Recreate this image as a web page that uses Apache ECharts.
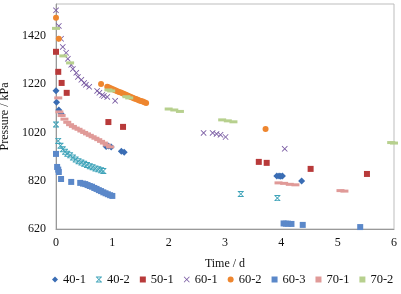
<!DOCTYPE html>
<html>
<head>
<meta charset="utf-8">
<script src="https://cdn.jsdelivr.net/npm/echarts@6/dist/echarts.min.js"></script>
<style>
  html, body { margin: 0; padding: 0; background: #fff; }
  #chart { width: 401px; height: 294px; }
</style>
</head>
<body>
<div id="chart"></div>
<script>
// [time (d), pressure (kPa)] pairs
const s40_1 = [[0,1193],[0.01,1145],[0.05,1113],[0.09,1097],[0.89,962],[0.93,964],[0.98,960],[1.16,942],[1.21,938],
  [3.92,840],[3.96,840],[3.99,838],[4.02,840],[4.36,819]]
const s40_2 = [[0,1053],[0.04,985],[0.08,965],[0.12,950],[0.16,940],[0.2,932],[0.25,925],[0.3,916],[0.35,908],[0.4,901],
  [0.45,895],[0.5,890],[0.55,885],[0.6,880],[0.65,876],[0.7,871],[0.75,867],[0.8,863],[0.84,860],[3.28,765],[3.93,748]]
const s50_1 = [[0,1354],[0.04,1271],[0.1,1225],[0.19,1184],[0.93,1063],[1.19,1043],[3.6,898],[3.74,894],[4.52,869],[5.52,848]]
const s60_1 = [[0,1526],[0.05,1461],[0.09,1408],[0.12,1374],[0.18,1350],[0.21,1325],[0.27,1300],[0.3,1283],[0.36,1267],
  [0.39,1250],[0.45,1238],[0.5,1225],[0.53,1217],[0.59,1209],[0.73,1192],[0.77,1184],[0.82,1175],[0.85,1171],[0.91,1167],
  [1.05,1151],[2.62,1018],[2.78,1018],[2.85,1014],[2.92,1010],[3.01,1001],[4.06,952]]
const s60_2 = [[0,1495],[0.05,1408],[0.8,1221],[0.91,1209],[0.94,1206],[0.97,1203],[1.0,1200],[1.03,1197],[1.06,1194],
  [1.09,1191],[1.12,1188],[1.15,1185],[1.18,1182],[1.21,1179],[1.24,1176],[1.27,1173],[1.3,1170],[1.33,1167],[1.36,1164],
  [1.39,1161],[1.42,1158],[1.45,1155],[1.48,1152],[1.51,1150],[1.54,1148],[1.57,1145],[1.6,1142],[3.72,1034]]
const s60_3 = [[0,931],[0.02,877],[0.04,866],[0.05,856],[0.09,827],[0.27,815],[0.43,811],[0.48,808],[0.52,806],[0.56,802],
  [0.6,798],[0.64,795],[0.68,790],[0.72,786],[0.76,781],[0.8,777],[0.84,772],[0.88,768],[0.92,764],[0.96,760],[1.0,757],
  [4.04,643],[4.08,642],[4.12,642],[4.18,641],[4.38,637],[5.4,628]]
const s70_1 = [[0.04,1163],[0.06,1105],[0.1,1090],[0.15,1075],[0.2,1062],[0.25,1052],[0.3,1045],[0.35,1038],[0.4,1033],
  [0.45,1026],[0.5,1020],[0.55,1014],[0.6,1008],[0.65,1002],[0.7,996],[0.75,990],[0.8,983],[0.85,976],[0.9,968],[0.96,960],
  [3.95,811],[4.05,809],[4.15,805],[4.25,803],[5.05,779],[5.12,777]]
const s70_2 = [[0,1451],[0.13,1337],[0.25,1308],[0.93,1196],[0.98,1192],[1.25,1168],[1.3,1163],[2.0,1117],[2.1,1113],
  [2.2,1107],[2.95,1072],[3.05,1068],[3.15,1064],[5.95,978],[6.0,976]]

const X_PATH = 'path://M0,1 L1,0 L5,4 L9,0 L10,1 L6,5 L10,9 L9,10 L5,6 L1,10 L0,9 L4,5 Z'
const STAR_PATH = 'path://M0,0 L10,0 L10,1.6 L0,1.6 Z M0,8.4 L10,8.4 L10,10 L0,10 Z M0,1 L1,0 L5,4 L9,0 L10,1 L6,5 L10,9 L9,10 L5,6 L1,10 L0,9 L4,5 Z'

const font = 'Liberation Serif'

function sc(name, data, symbol, size, color) {
  return { name, type: 'scatter', data, symbol, symbolSize: size, itemStyle: { color, opacity: 1 } }
}

const chart = echarts.init(document.getElementById('chart'), null, { renderer: 'canvas' })
chart.setOption({
  animation: false,
  backgroundColor: '#fff',
  textStyle: { fontFamily: font },
  grid: { left: 56, right: 7, top: 4, bottom: 65, show: true, borderColor: '#bdbdbd', borderWidth: 1, containLabel: false, outerBoundsMode: 'none' },
  xAxis: {
    type: 'value', min: 0, max: 6, interval: 1,
    name: 'Time / d', nameLocation: 'middle', nameGap: 29,
    nameTextStyle: { fontFamily: font, fontSize: 12, color: '#111' },
    axisLine: { lineStyle: { color: '#999' } },
    axisTick: { show: false },
    splitLine: { show: false },
    axisLabel: { fontFamily: font, fontSize: 12, color: '#111', margin: 8 },
  },
  yAxis: {
    type: 'value', min: 620, max: 1552, interval: 200,
    name: 'Pressure / kPa', nameLocation: 'middle', nameGap: 44,
    nameTextStyle: { fontFamily: font, fontSize: 12, color: '#111' },
    axisLine: { show: true, lineStyle: { color: '#999' } },
    axisTick: { show: false },
    splitLine: { show: false },
    axisLabel: { fontFamily: font, fontSize: 12, color: '#111', margin: 10, showMaxLabel: false, formatter: (v) => String(v) },
  },
  legend: {
    bottom: 3, left: 47, itemWidth: 6, itemHeight: 6, itemGap: 10,
    textStyle: { fontFamily: font, fontSize: 12.5, color: '#111' },
  },
  series: [
    sc('40-1', s40_1, 'diamond', 7, '#3a6db4'),
    sc('40-2', s40_2, STAR_PATH, 6, '#3ea3b9'),
    sc('50-1', s50_1, 'rect', 6, '#b83a3a'),
    sc('60-1', s60_1, X_PATH, 6, '#7a5ca3'),
    sc('60-2', s60_2, 'circle', 6, '#ee862f'),
    sc('60-3', s60_3, 'rect', 6, '#5b88c9'),
    sc('70-1', s70_1, 'rect', [8, 3], '#e09a98'),
    sc('70-2', s70_2, 'rect', [8, 3], '#b7d08e'),
  ],
})
</script>
</body>
</html>
